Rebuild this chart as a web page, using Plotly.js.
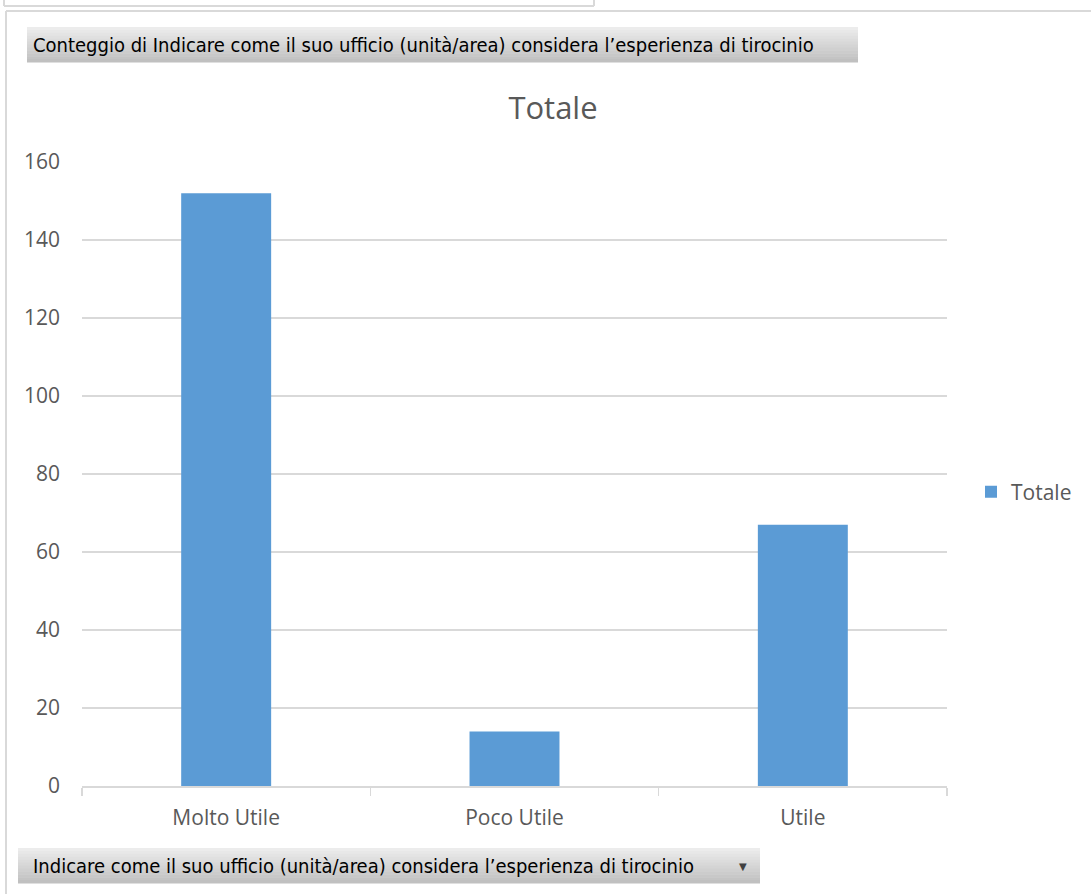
<!DOCTYPE html>
<html>
<head>
<meta charset="utf-8">
<script src="https://cdn.plot.ly/plotly-3.0.1.min.js"></script>
<style>
html,body{margin:0;padding:0;background:#fff;overflow:hidden;}
#chart{width:1091px;height:894px;}
</style>
</head>
<body>
<div id="chart"></div>
<script>
// ---- data ----
const categories = ['Molto Utile', 'Poco Utile', 'Utile'];
const totale = [152, 14, 67];
const yTickVals = [0, 20, 40, 60, 80, 100, 120, 140, 160];
const seriesName = 'Totale';
const chartTitle = 'Totale';
const valueFieldLabel = 'Conteggio di Indicare come il suo ufficio (unità/area) considera l’esperienza di tirocinio';
const axisFieldLabel = 'Indicare come il suo ufficio (unità/area) considera l’esperienza di tirocinio';

// ---- geometry helpers (pixel -> paper) ----
const W = 1091, H = 894;
const L = 82, R = 947, T = 162, B = 786;
const px = x => (x - L) / (R - L);
const py = y => (B - y) / (B - T);

const grey = '#595959';
const lineGrey = '#d9d9d9';
const font = '"Open Sans", "Noto Sans", sans-serif';
const btnFont = '"DejaVu Sans Condensed", "Liberation Sans Narrow", "DejaVu Sans", sans-serif';

const shapes = [];
// frames
function line(x0, y0, x1, y1, color, w) {
  shapes.push({type: 'line', xref: 'paper', yref: 'paper', x0: px(x0), y0: py(y0), x1: px(x1), y1: py(y1),
    line: {color: color, width: w}, layer: 'below'});
}
line(4, -5, 4, 6, lineGrey, 2);
line(4, 6, 594, 6, lineGrey, 2);
line(594, -5, 594, 6, lineGrey, 2);
line(6, 11, 1095, 11, lineGrey, 2);
line(6, 11, 6, 900, lineGrey, 2);

// gradient button helper
function button(x0, y0, x1, y1) {
  const n = 12;
  const top = [236, 236, 236], bot = [192, 192, 192];
  for (let i = 0; i < n; i++) {
    const t = i / (n - 1);
    const c = top.map((v, k) => Math.round(v + (bot[k] - v) * t));
    const ya = y0 + (y1 - y0) * i / n, yb = y0 + (y1 - y0) * (i + 1) / n;
    shapes.push({type: 'rect', xref: 'paper', yref: 'paper', x0: px(x0), x1: px(x1), y0: py(ya), y1: py(yb + 0.5),
      fillcolor: `rgb(${c[0]},${c[1]},${c[2]})`, line: {width: 0}, layer: 'below'});
  }
}
button(27, 27, 858, 62);
button(18, 848, 760, 883);

const annotations = [
  {text: valueFieldLabel, xref: 'paper', yref: 'paper', x: px(31), y: py(45), xanchor: 'left', yanchor: 'middle',
    showarrow: false, font: {family: btnFont, size: 20, color: '#000'}},
  {text: axisFieldLabel, xref: 'paper', yref: 'paper', x: px(31), y: py(866), xanchor: 'left', yanchor: 'middle',
    showarrow: false, font: {family: btnFont, size: 20, color: '#000'}},
  {text: '▼', xref: 'paper', yref: 'paper', x: px(743), y: py(866), xanchor: 'center', yanchor: 'middle',
    showarrow: false, font: {family: 'DejaVu Sans', size: 10, color: '#404040'}}
];

const data = [{
  type: 'bar',
  x: categories,
  y: totale,
  name: seriesName,
  marker: {color: '#5b9bd5'},
  showlegend: true,
  hoverinfo: 'x+y'
}];

const layout = {
  width: W, height: H,
  paper_bgcolor: '#ffffff', plot_bgcolor: '#ffffff',
  margin: {l: L, r: W - R, t: T, b: H - B, pad: 0, autoexpand: false},
  bargap: 0.688,
  title: {text: chartTitle, xref: 'container', yref: 'container', x: 553 / W, y: 1 - 108 / H,
    xanchor: 'center', yanchor: 'middle', font: {family: font, size: 31, color: grey}},
  showlegend: true,
  legend: {x: px(971), y: py(492), xanchor: 'left', yanchor: 'middle', font: {family: font, size: 21, color: grey},
    bgcolor: 'rgba(0,0,0,0)', itemwidth: 30, borderwidth: 0},
  xaxis: {
    type: 'category', showgrid: false, zeroline: false,
    showline: true, linecolor: lineGrey, linewidth: 1.5,
    ticks: 'outside', tickson: 'boundaries', ticklen: 8, tickcolor: lineGrey, tickwidth: 1.5,
    ticklabelstandoff: 12,
    tickfont: {family: font, size: 21, color: grey}
  },
  yaxis: {
    range: [0, 160], tickvals: yTickVals, ticktext: yTickVals.map(String),
    showgrid: true, gridcolor: lineGrey, gridwidth: 1.5, zeroline: false, showline: false,
    ticks: '', ticklabelstandoff: 21,
    tickfont: {family: font, size: 21, color: grey}
  },
  shapes: shapes,
  annotations: annotations
};

Plotly.newPlot('chart', data, layout, {displayModeBar: false, staticPlot: true});
</script>
</body>
</html>
